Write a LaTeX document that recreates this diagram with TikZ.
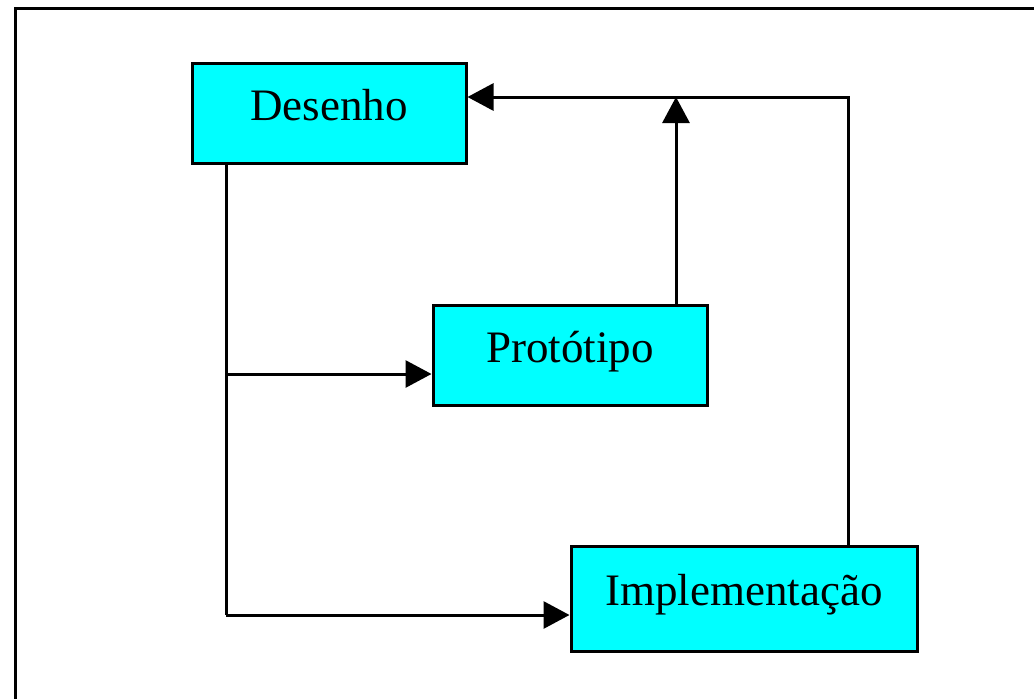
\documentclass[tikz,border=0pt]{standalone}
\usepackage{fontspec}
\setmainfont{Liberation Serif}
\usetikzlibrary{arrows.meta}
\definecolor{boxcyan}{RGB}{0,255,255}
\begin{document}
\begin{tikzpicture}[x=1pt,y=-1pt,
  boxnode/.style={draw=black, fill=boxcyan, line width=3pt, inner sep=0pt,
    text height=31pt, text depth=17pt,
    font=\fontsize{45}{50}\selectfont},
  conn/.style={draw=black, line width=3pt},
  arr/.style={conn, -{Triangle[length=26pt,width=27pt]}}]
\useasboundingbox (0,0) rectangle (1034,699);
% frame
\draw[line width=3pt] (15,699) -- (15,8) -- (1034,8);
% boxes
\node[boxnode, minimum width=274pt, minimum height=100pt] (D) at (329,113) {Desenho\hspace{6pt}};
\node[boxnode, minimum width=274pt, minimum height=100pt] (P) at (570,355) {Protótipo\hspace{6pt}};
\node[boxnode, minimum width=346pt, minimum height=105pt] (I) at (744,598.5) {Implementação\hspace{6pt}};
% junction coordinates
\coordinate (dx) at (226,0);
\coordinate (jP) at (226,374);
\coordinate (jI) at (226,615);
\coordinate (top) at (0,97);
\coordinate (px) at (676,0);
\coordinate (ix) at (848,0);
% connectors
\draw[conn] (D.south -| dx) -- (jI);
\draw[arr] (jP) -- (P.west |- jP);
\draw[arr] (jI) -- (I.west |- jI);
\draw[arr] (P.north -| px) -- (px |- top);
\draw[arr] (I.north -| ix) -- (ix |- top) -- (D.east |- top);
\end{tikzpicture}
\end{document}
